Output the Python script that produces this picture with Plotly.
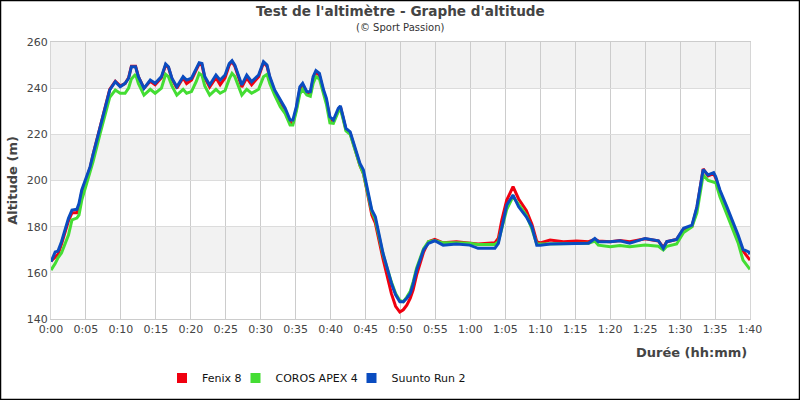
import plotly.graph_objects as go

# time in minutes since start
minutes = [0, 0.6, 1.0, 1.5, 2.5, 3.0, 3.7, 4.0, 4.4, 5.1, 5.6, 6.0, 7.0, 8.0, 8.4, 9.2, 9.9, 10.6, 11.1, 11.5,
           12.1, 12.5, 13.3, 14.2, 14.9, 15.8, 16.4, 16.8, 17.3, 18.0, 18.9, 19.4, 20.1, 20.8, 21.2, 21.6, 22.0,
           22.7, 23.6, 24.2, 24.9, 25.5, 25.9, 26.3, 27.3, 28.0, 28.7, 29.7, 30.4, 30.9, 31.3, 32.0, 32.8, 33.5,
           34.2, 34.6, 35.1, 35.6, 36.0, 36.6, 37.1, 37.5, 37.9, 38.4, 39.0, 39.4, 39.9, 40.4, 41.1, 41.4, 41.8,
           42.2, 42.8, 43.5, 44.2, 44.7, 45.2, 45.9, 46.4, 47.0, 47.5, 48.7, 49.3, 49.9, 50.4, 50.9, 51.4, 51.8,
           52.3, 53.3, 54.0, 54.9, 56.1, 58.0, 59.9, 61.1, 63.5, 64.0, 64.5, 65.2, 66.1, 66.9, 68.0, 68.8, 69.5,
           70.0, 71.4, 73.3, 75.2, 76.9, 77.8, 78.3, 80.0, 81.4, 82.8, 85.0, 86.9, 87.6, 88.1, 89.5, 90.5, 91.7,
           92.4, 93.1, 93.3, 94.0, 94.8, 95.1, 95.7, 96.7, 97.6, 98.3, 99.0, 99.8, 100]

fenix = [165, 167, 168, 172.5, 182.5, 186, 186, 188.5, 195, 201, 205.5, 211, 223, 235.5, 239.5, 243, 241, 242, 244.5, 249.5,
         249.5, 245, 240, 243, 241.5, 244.5, 250, 249, 244, 240, 244.5, 242, 243.5, 248, 250.5, 250, 244.5,
         240.5, 244.5, 241.5, 244.5, 250, 251.5, 249.5, 240.5, 244.5, 241.5, 245, 251, 249.5, 244.5, 238.5, 234, 230.5,
         225, 225, 231, 239.5, 241.5, 238, 237.5, 244, 247, 245.5, 238.5, 234.5, 227, 225.5, 230.5, 232, 227,
         222, 220.5, 213.5, 206.5, 203, 195.5, 185, 181.5, 173, 166, 151, 145.5, 143, 144, 146, 149, 152.5,
         159, 169, 173.5, 174.5, 173, 173.5, 173, 172.5, 173, 175, 183, 191.5, 197.3, 192, 187, 181, 173.5,
         173, 174.2, 173.5, 173.8, 173.5, 174.5, 173.8, 173.5, 174, 173.5, 174.8, 173.8, 171, 173.5, 174.5, 179, 180.2,
         188, 200, 205, 202, 203, 201, 195, 187.5, 181, 175.5, 169.5, 166.3, 165.5]

coros = [161.2, 164, 166.5, 168.6, 176.4, 182.9, 183.7, 185, 191.5, 198.9, 204, 208, 220, 232, 236, 239.2, 237.8, 237.8, 240, 244,
         246, 242, 237, 239.5, 237.8, 240, 246, 245, 241, 237, 239.5, 237.8, 238.5, 243, 246.4, 245.5, 241,
         237, 239.5, 237.8, 239, 244, 246.4, 245, 237, 239.5, 237.8, 239.5, 245, 246, 242, 237, 232, 229,
         224, 224, 230, 237.5, 239.5, 237, 236.5, 242, 245, 244, 237.5, 233, 225, 224.8, 229.8, 231, 226.5,
         221.5, 220, 213.5, 206.5, 203, 196, 186.5, 183, 175, 168, 156, 151, 148, 147.5, 149.5, 152, 156,
         162, 170.5, 173.5, 174, 173, 173, 172.8, 172.3, 172.3, 173.5, 179, 187.5, 193, 189.5, 185, 179, 172.5,
         172.5, 172.5, 172.5, 172.5, 172.8, 173.8, 172, 171.3, 171.8, 171.3, 172, 171.5, 169.9, 171.5, 172.5, 177.5, 180,
         186, 198, 202.4, 200, 199.5, 199, 193, 185, 178.5, 173, 165.5, 161.9, 161.5]

suunto = [164.8, 169, 169.4, 173.5, 183.6, 187.2, 187.5, 190, 195.9, 201.6, 206, 211, 223.3, 234.9, 239.2, 242.8, 240.6, 242.1, 244.3, 249.3,
          249.3, 245, 239.9, 243.5, 242.1, 245, 250.5, 249.3, 244.3, 240.6, 245, 243.5, 244.3, 248.6, 251, 250.7, 245,
          241.4, 245.7, 243.5, 245.7, 250.7, 251.9, 250, 241.4, 245.7, 242.8, 245.7, 251.5, 250, 245, 239.2, 234.9, 231.3,
          226.2, 226.2, 232, 240.6, 242.1, 238.5, 238.5, 245, 247.6, 246.4, 239.2, 235.6, 227.6, 226.2, 231.3, 232.3, 227.6,
          222.6, 221.1, 214.6, 207.4, 204.5, 197.3, 187.2, 184.3, 175.6, 168.5, 155.5, 150.5, 147.5, 147.5, 149, 151.1, 155,
          161.2, 169.9, 172.8, 173.9, 172, 172.5, 172, 170.6, 170.6, 172.8, 180, 189.4, 193.7, 188.6, 184.3, 180, 172,
          172, 172.5, 172.5, 172.8, 172.8, 174.9, 173.5, 173.5, 173.9, 172.8, 174.9, 173.9, 170.6, 173.5, 174.5, 179.3, 180.7,
          188.6, 200.2, 204.8, 202.4, 203.4, 201.6, 195.9, 188.6, 182.1, 176.4, 170.2, 169.1, 168]

tick_minutes = list(range(0, 101, 5))
tick_labels = ['0:00', '0:05', '0:10', '0:15', '0:20', '0:25', '0:30', '0:35', '0:40', '0:45', '0:50',
               '0:55', '1:00', '1:05', '1:10', '1:15', '1:20', '1:25', '1:30', '1:35', '1:40']

FONT = 'DejaVu Sans'

fig = go.Figure()
series = [('Fenix 8', fenix, '#f00010', 'legend'),
          ('COROS APEX 4', coros, '#44dd33', 'legend2'),
          ('Suunto Run 2', suunto, '#0a4cc0', 'legend3')]
for name, vals, col, leg in series:
    fig.add_trace(go.Scatter(x=minutes, y=vals, mode='lines', name=name, legendgroup=name,
                             showlegend=False, line=dict(color=col, width=3)))
# legend entries with small block symbols, one legend box each
for name, vals, col, leg in series:
    fig.add_trace(go.Scatter(x=[None], y=[None], mode='markers', name=name, legendgroup=name,
                             legend=leg, marker=dict(symbol='square', size=10, color=col)))

# alternating grey bands
for lo in [160, 200, 240]:
    fig.add_shape(type='rect', xref='paper', yref='y', x0=0, x1=1, y0=lo, y1=lo + 20,
                  fillcolor='#f2f2f2', line_width=0, layer='below')

# outer black frame
fig.add_shape(type='rect', xref='paper', yref='paper',
              x0=-50.5 / 699, x1=748.5 / 699, y0=-80.5 / 277, y1=318.5 / 277,
              line=dict(color='black', width=1.5), layer='above')

fig.add_annotation(text="<b>Test de l'altimètre - Graphe d'altitude</b>", xref='paper', yref='paper',
                   x=349 / 699, y=(319 - 11) / 277, showarrow=False,
                   font=dict(family=FONT, size=13.6, color='#444'), xanchor='center', yanchor='middle')
fig.add_annotation(text='(© Sport Passion)', xref='paper', yref='paper',
                   x=349 / 699, y=(319 - 28) / 277, showarrow=False,
                   font=dict(family=FONT, size=10, color='#333'), xanchor='center', yanchor='middle')
fig.add_annotation(text='<b>Durée (hh:mm)</b>', xref='paper', yref='paper',
                   x=698 / 699, y=(319 - 352) / 277, showarrow=False,
                   font=dict(family=FONT, size=13, color='#444'), xanchor='right', yanchor='middle')

leg_style = dict(orientation='h', xref='container', yref='container', y=0.055,
                 xanchor='left', yanchor='middle', bgcolor='rgba(0,0,0,0)',
                 font=dict(family=FONT, size=11, color='#111'), itemwidth=30)

fig.update_layout(
    width=800, height=400,
    margin=dict(l=51, r=50, t=42, b=81),
    paper_bgcolor='white', plot_bgcolor='white',
    showlegend=True,
    legend=dict(x=162 / 800, **leg_style),
    legend2=dict(x=235.5 / 800, **leg_style),
    legend3=dict(x=351.5 / 800, **leg_style),
    xaxis=dict(range=[0, 100], tickvals=tick_minutes, ticktext=tick_labels, automargin=False,
               showgrid=True, gridcolor='#cccccc', gridwidth=1, zeroline=False,
               showline=True, linecolor='#cccccc', mirror=True,
               tickfont=dict(family=FONT, size=11, color='#444'), ticks=''),
    yaxis=dict(range=[140, 260], dtick=20, showgrid=True, gridcolor='#dcdcdc', zeroline=False,
               showline=True, linecolor='#d6d6d6', mirror=True, automargin=False,
               tickfont=dict(family=FONT, size=11, color='#444'), ticks='',
               title=dict(text='<b>Altitude (m)</b>', font=dict(family=FONT, size=13, color='#444'),
                          standoff=6)),
)

fig.write_html('out.html', config={'displayModeBar': False},
               post_script="document.body.style.margin='0';")
